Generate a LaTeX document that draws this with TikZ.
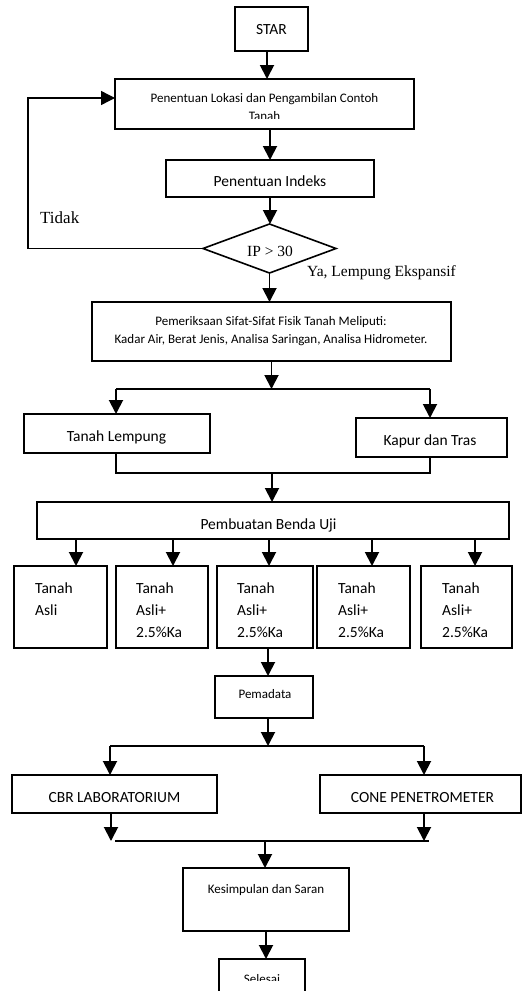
\documentclass[tikz,border=0pt]{standalone}
\usepackage{fontspec}
\setmainfont{Carlito}
\newfontfamily\tnr{Liberation Serif}
\usetikzlibrary{arrows.meta,shapes.geometric}
\begin{document}
\begin{tikzpicture}[x=1pt,y=-1pt,
  box/.style={draw, line width=1.6pt, inner sep=0pt, outer sep=0pt},
  arr/.style={line width=1.9pt, -{Triangle[length=14pt,width=14pt]}},
  ln/.style={line width=1.4pt},
  big/.style={font=\fontsize{15.5}{18}\selectfont, anchor=base, inner sep=0pt},
  sml/.style={font=\fontsize{13}{16}\selectfont, anchor=base, inner sep=0pt},
  tnrs/.style={font=\tnr\fontsize{15.5}{18}\selectfont, inner sep=0pt},
]
\useasboundingbox (0,0) rectangle (532,991);

% ---- boxes ----
\node[box, minimum width=73pt,  minimum height=44pt] (star) at (271.5,29) {};
\node[box, minimum width=299pt, minimum height=50pt] (loc)  at (264.5,104) {};
\node[box, minimum width=208pt, minimum height=37pt] (idx)  at (270,178.5) {};
\node[draw, diamond, line width=1.6pt, inner sep=0pt, outer sep=0pt, aspect=2.714,
      minimum width=133pt, minimum height=49pt] (dia) at (269.5,248.5) {};
\node[box, minimum width=359pt, minimum height=59pt] (fis)  at (271.5,331.5) {};
\node[box, minimum width=186pt, minimum height=39pt] (lem)  at (117,433.5) {};
\node[box, minimum width=151pt, minimum height=39pt] (kap)  at (431.5,437.5) {};
\node[box, minimum width=472pt, minimum height=37pt] (pem)  at (273,520.5) {};
\node[box, minimum width=93pt, minimum height=82pt] (b1) at (60.5,607) {};
\node[box, minimum width=92pt, minimum height=82pt] (b2) at (162,607) {};
\node[box, minimum width=96pt, minimum height=82pt] (b3) at (265,607) {};
\node[box, minimum width=93pt, minimum height=82pt] (b4) at (363.5,607) {};
\node[box, minimum width=91pt, minimum height=82pt] (b5) at (466.5,607) {};
\node[box, minimum width=98pt,  minimum height=42pt] (pmd)  at (264,697) {};
\node[box, minimum width=205pt, minimum height=38pt] (cbr)  at (114.5,794) {};
\node[box, minimum width=201pt, minimum height=38pt] (cone) at (420.5,794) {};
\node[box, minimum width=166pt, minimum height=63pt] (kes)  at (266,899.5) {};
\node[box, minimum width=86pt,  minimum height=51pt] (sel)  at (262,984.5) {};

% ---- texts ----
\node[big] (starT) at (271.5,34) {STAR};
\node[sml] (locT1) at (264.5,102.4) {Penentuan Lokasi dan Pengambilan Contoh};
\begin{scope}
  \clip (116,80) rectangle (413,118.3);
  \node[sml] (locT2) at (264.5,120.5) {Tanah};
\end{scope}
\node[big] (idxT) at (270,186) {Penentuan Indeks};
\node[tnrs, anchor=base] (diaT) at (270,256) {IP > 30};
\node[tnrs, font=\tnr\fontsize{17}{20}\selectfont, anchor=base west] (tidak) at (40,223) {Tidak};
\node[tnrs, anchor=base west] (ya) at (307,276) {Ya, Lempung Ekspansif};
\node[sml] (fisT1) at (271,325) {Pemeriksaan Sifat-Sifat Fisik Tanah Meliputi:};
\node[sml] (fisT2) at (271,343) {Kadar Air, Berat Jenis, Analisa Saringan, Analisa Hidrometer.};
\node[big] (lemT) at (116.5,441) {Tanah Lempung};
\node[big] (kapT) at (430,445) {Kapur dan Tras};
\node[big] (pemT) at (268.5,529) {Pembuatan Benda Uji};
\node[big, anchor=base west] (b1a) at (35,593) {Tanah};
\node[big, anchor=base west] (b1b) at (35,615) {Asli};
\foreach \n/\x in {2/136,3/237,4/338,5/442}{
  \node[big, anchor=base west] (b\n a) at (\x,593) {Tanah};
  \node[big, anchor=base west] (b\n b) at (\x,615) {Asli+};
  \node[big, anchor=base west] (b\n c) at (\x,637) {2.5\%Ka};
}
\node[sml] (pmdT) at (265,698) {Pemadata};
\node[big] (cbrT) at (114.5,802) {CBR LABORATORIUM};
\node[big] (coneT) at (422.5,802) {CONE PENETROMETER};
\node[sml] (kesT) at (266,893) {Kesimpulan dan Saran};
\begin{scope}
  \clip (220,960) rectangle (305,980.5);
  \node[sml] (selT) at (262,983) {Selesai};
\end{scope}

% ---- connectors ----
\draw[arr] ([xshift=-4.5pt]star.south) -- ([xshift=-4.5pt]star.south |- loc.north);
\draw[arr] (loc.south -| idx.north) -- (idx.north);
\draw[arr] (idx.south) -- (idx.south |- dia.north);
\draw[arr] (dia.south) -- (dia.south |- fis.north);
\coordinate (fbA) at (28,248.5);
\coordinate (fbB) at (28,98);
\draw[ln, -{Triangle[length=14pt,width=14pt]}] (dia.west) -- (fbA) -- (fbB) -- (fbB -| loc.west);

\coordinate (j1)  at (271.5,389);
\coordinate (j1L) at (116,389);
\coordinate (j1R) at (430,389);
\draw[arr] (fis.south) -- (j1);
\draw[ln, line width=1.8pt] (j1L) -- (j1R);
\draw[arr] (j1L) -- (j1L |- lem.north);
\draw[arr] (j1R) -- (j1R |- kap.north);

\coordinate (j2L) at (116,473);
\coordinate (j2R) at (430,473);
\coordinate (j2)  at (272,473);
\draw[ln] (lem.south -| j2L) -- (j2L) -- (j2R) -- (kap.south -| j2R);
\draw[arr] (j2) -- (j2 |- pem.north);

\foreach \n/\dx in {1/15.5,2/11,3/4,4/8.5,5/8.5}{
  \draw[arr] ([xshift=\dx pt]b\n.north |- pem.south) -- ([xshift=\dx pt]b\n.north);
}
\draw[arr] ([xshift=3pt]b3.south) -- ([xshift=3pt]b3.south |- pmd.north);

\coordinate (j3)  at (268,746);
\coordinate (j3L) at (110,746);
\coordinate (j3R) at (424,746);
\draw[arr] (pmd.south -| j3) -- (j3);
\draw[ln, line width=1.8pt] (j3L) -- (j3R);
\draw[arr] (j3L) -- (j3L |- cbr.north);
\draw[arr] (j3R) -- (j3R |- cone.north);

\coordinate (j4L) at (111,841);
\coordinate (j4R) at (424,841);
\coordinate (j4)  at (265,841);
\draw[arr] (cbr.south -| j4L) -- (j4L);
\draw[arr] (cone.south -| j4R) -- (j4R);
\draw[ln] ([xshift=4pt]j4L) -- ([xshift=5pt]j4R);
\draw[arr] (j4) -- (j4 |- kes.north);
\draw[arr] (kes.south) -- (kes.south |- sel.north);
\end{tikzpicture}
\end{document}
